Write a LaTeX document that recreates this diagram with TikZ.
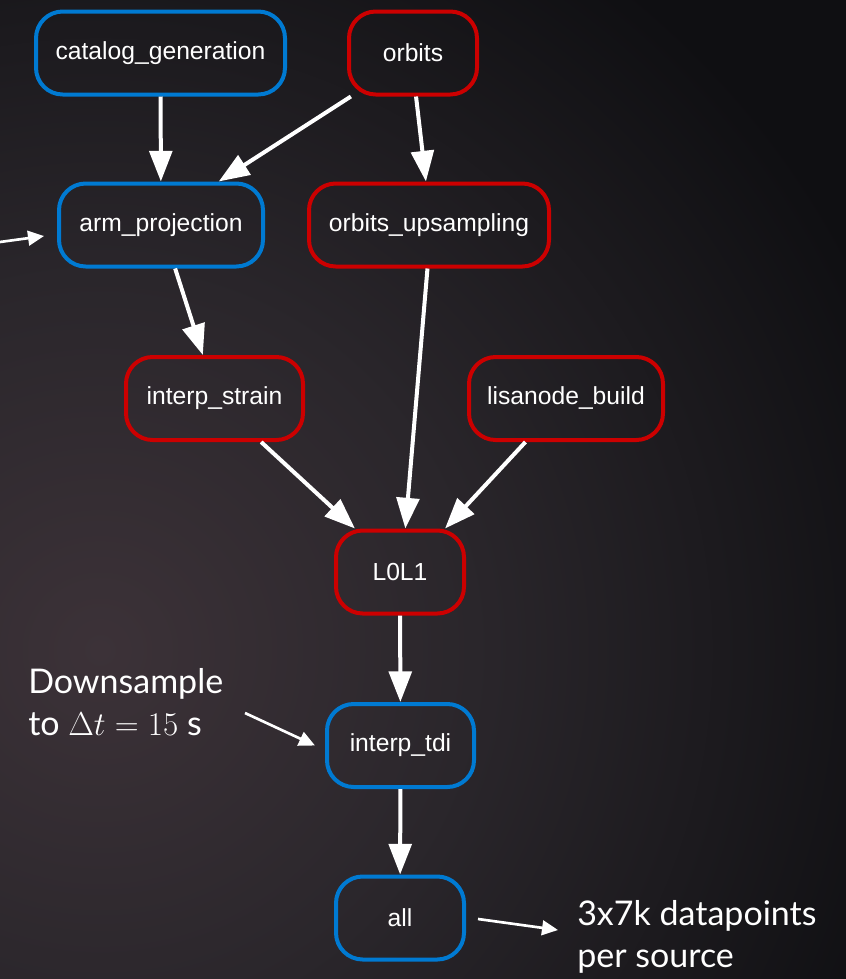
\documentclass[tikz,border=0pt]{standalone}
\usepackage{fontspec}
\setmainfont{Lato}
\newfontfamily\dagfont{Liberation Sans}
\usetikzlibrary{calc,arrows.meta}

\definecolor{jobblue}{RGB}{0,122,210}
\definecolor{jobred}{RGB}{204,0,0}
\definecolor{bgin}{RGB}{60,50,56}
\definecolor{bgmid}{RGB}{42,38,43}
\definecolor{bgout}{RGB}{15,15,18}
\pgfdeclareradialshading{slidebg}{\pgfpoint{0bp}{0bp}}{color(0bp)=(bgin); color(11bp)=(bgmid); color(25bp)=(bgout); color(50bp)=(bgout)}

\tikzset{
  job/.style={draw, line width=3pt, rounded corners=20pt, minimum height=62.25pt, inner sep=0pt, text=white, font=\dagfont\fontsize{18.5}{22}\selectfont},
  blue job/.style={job, draw=jobblue},
  red job/.style={job, draw=jobred},
  dep/.style={white, line width=3pt, -{Triangle[length=23pt,width=17pt]}},
  note/.style={white, line width=2pt, -{Triangle[length=12pt,width=11pt]}},
  remark/.style={text=white, font=\fontsize{25.5}{32}\selectfont, align=left, inner sep=0pt}
}

\begin{document}
\begin{tikzpicture}[x=0.75pt,y=0.75pt,yscale=-1,xscale=1]
                %Background
                \begin{scope}
                \clip (0,0) rectangle (846,979);
                \fill[bgout] (0,0) rectangle (846,979);
                \shade[shading=slidebg] (100,650) circle (850);
                \end{scope}
                \useasboundingbox (0,0) rectangle (846,979);
                %Rounded Rect
                \node[blue job, minimum width=186.75pt] (catalog) at (160.5,53) {catalog\_generation};
                \node[red job, minimum width=96pt] (orbits) at (413,53) {orbits};
                \node[blue job, minimum width=153pt] (arm) at (161,225) {arm\_projection};
                \node[red job, minimum width=180pt] (upsampling) at (429,225) {orbits\_upsampling};
                \node[red job, minimum width=132.75pt] (strain) at (214.5,398.5) {interp\_strain};
                \node[red job, minimum width=145.5pt] (lisanode) at (566,398.5) {lisanode\_build};
                \node[red job, minimum width=96pt] (lol) at (400,572) {L0L1};
                \node[blue job, minimum width=110.25pt] (tdi) at (400.5,745.5) {interp\_tdi};
                \node[blue job, minimum width=96pt] (all) at (400,918) {all};
                %Straight Lines
                \draw[dep] (catalog) -- (arm);
                \draw[dep] (orbits.215) -- (arm.37);
                \draw[dep] (orbits.-86) -- (upsampling.94);
                \draw[dep] (arm.-72) -- (strain.105);
                \draw[dep] (upsampling.-92) -- (lol.83);
                \draw[dep] (strain.-43) -- (lol.136);
                \draw[dep] (lisanode.227) -- (lol.44);
                \draw[dep] (lol) -- (tdi);
                \draw[dep] (tdi) -- (all);
                %Text Nodes
                \node[remark, anchor=north west] (downsample) at (28,668) {Downsample\\to $\Delta t = 15$ s};
                \node[remark, anchor=north west] (datapoints) at (577,900) {3x7k datapoints\\per source};
                \coordinate (feed) at (0,242);
                \coordinate (dsfrom) at (245,713);
                \coordinate (dpto) at (558,930);
                \draw[note] (feed) -- ($(arm.west)+(-13,11)$);
                \draw[note] (dsfrom) -- ($(tdi.west)+(-10,0)$);
                \draw[note] ($(all.east)+(12,1)$) -- (dpto);
\end{tikzpicture}
\end{document}
